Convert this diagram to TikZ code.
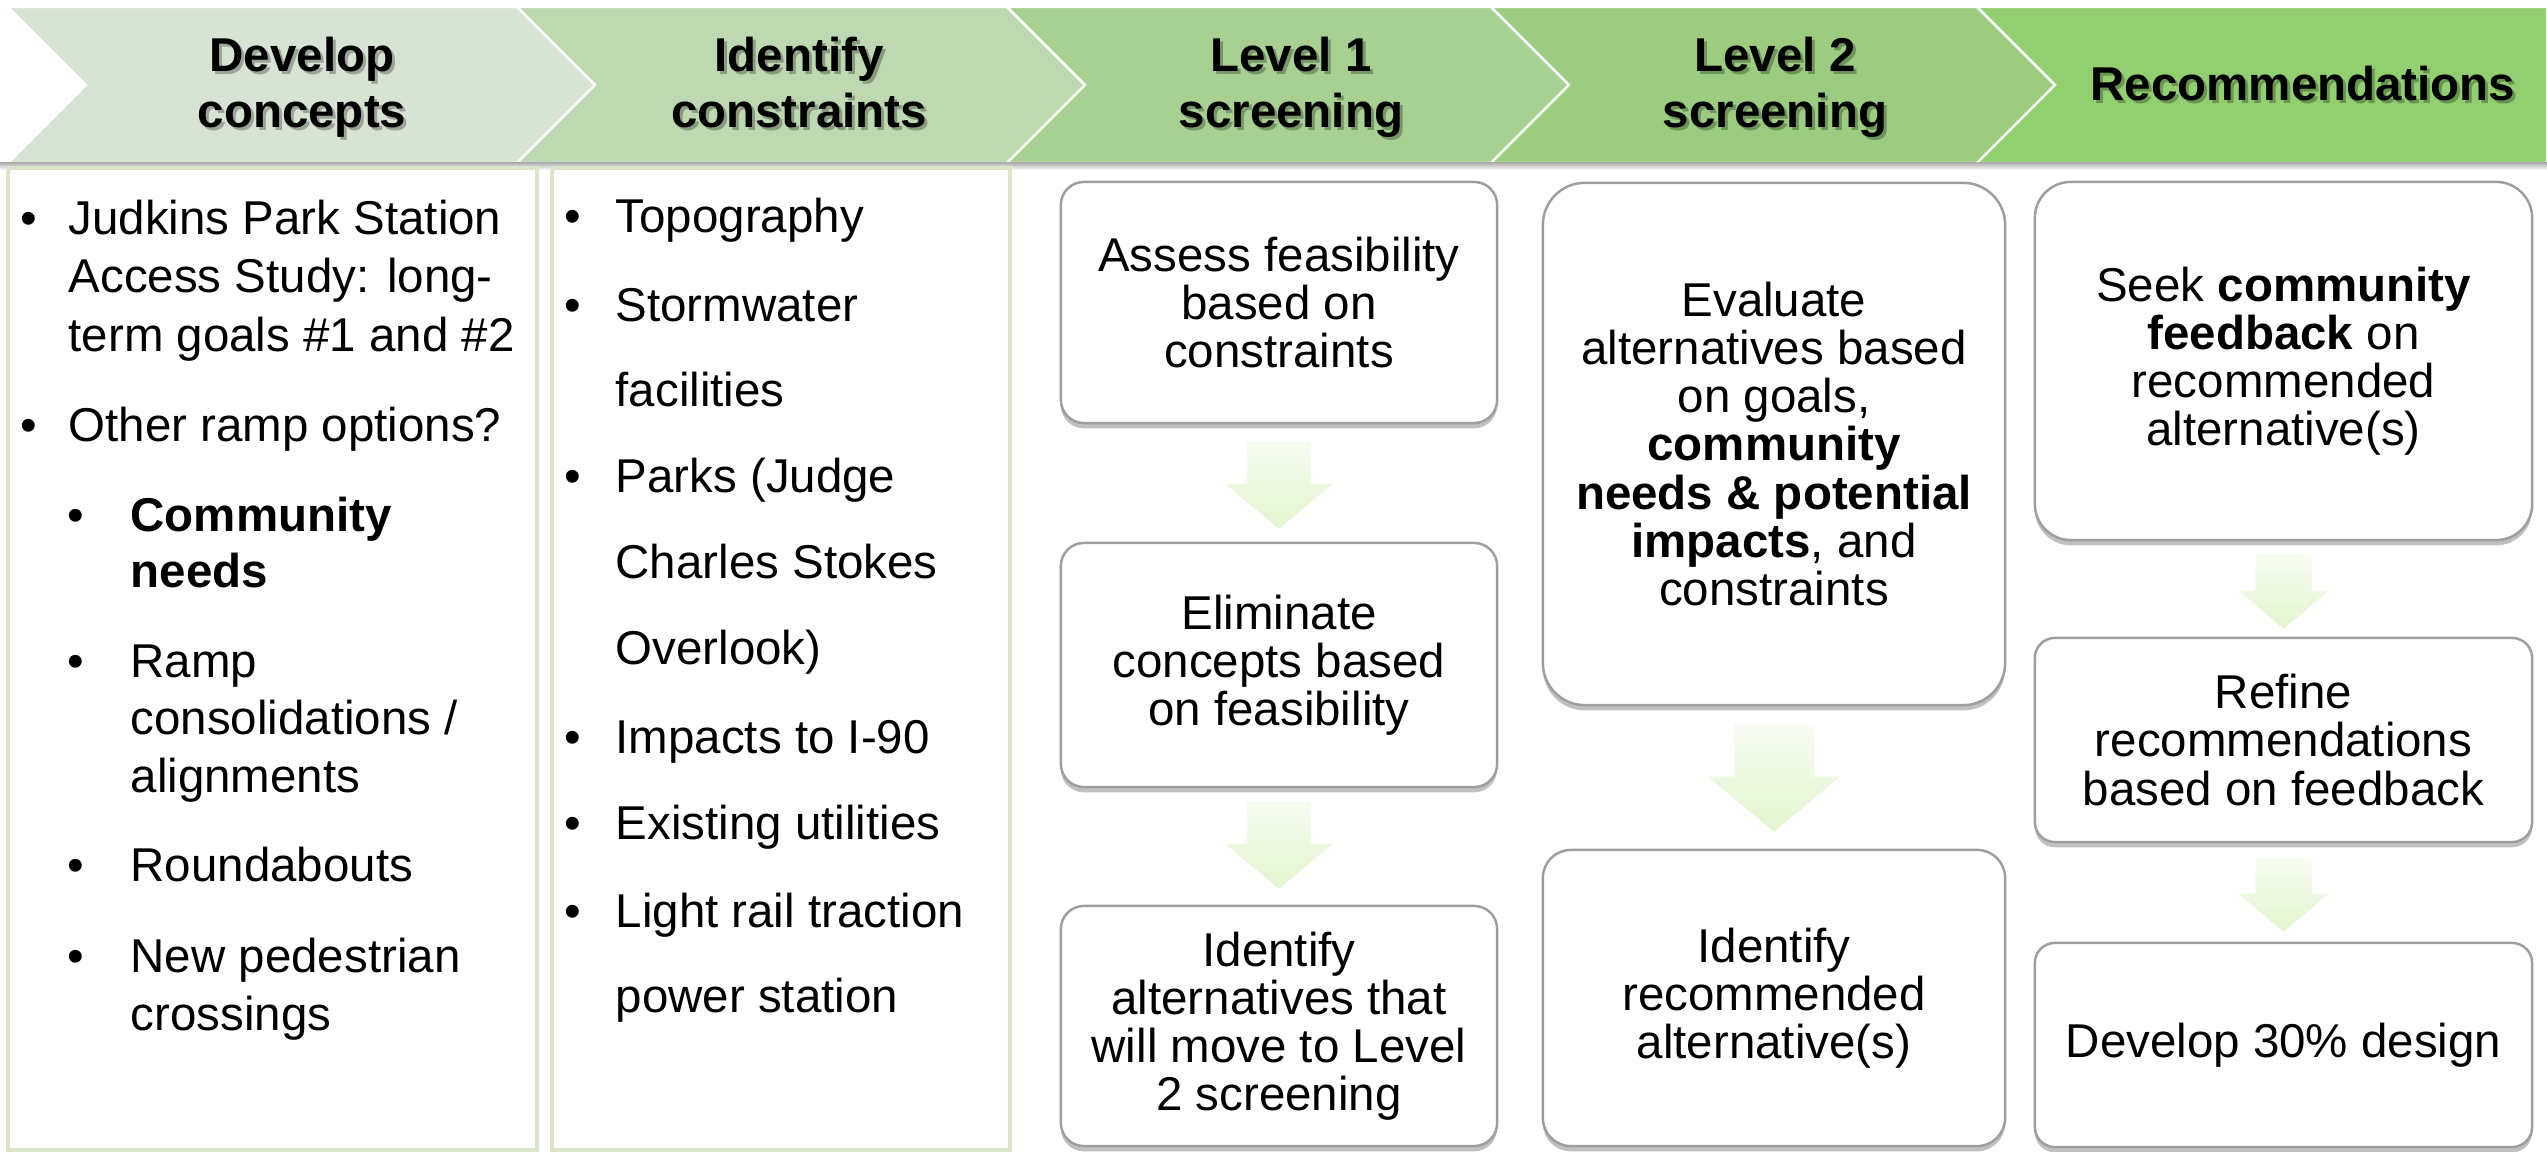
\documentclass[tikz,border=0pt]{standalone}
\usepackage{fontspec}
\setmainfont{Liberation Sans}
\usetikzlibrary{calc,shadows}

\definecolor{chevA}{RGB}{216,228,211}
\definecolor{chevB}{RGB}{190,216,177}
\definecolor{chevC}{RGB}{168,208,147}
\definecolor{chevD}{RGB}{155,204,128}
\definecolor{chevE}{RGB}{146,207,113}
\definecolor{panelrule}{RGB}{218,229,202}
\definecolor{boxrule}{RGB}{158,158,158}
\definecolor{arrowtop}{RGB}{247,252,242}
\definecolor{arrowbot}{RGB}{226,245,207}

\tikzset{
  body/.style={font=\fontsize{13.5pt}{13.66pt}\selectfont, inner sep=0pt},
  headtxt/.style={font=\fontsize{13.5pt}{16pt}\selectfont\bfseries, inner sep=0pt, anchor=base},
  headshadow/.style={headtxt, text=black, opacity=0.28},
  stepbox/.style={draw=boxrule, line width=0.7pt, fill=white, align=center,
    font=\fontsize{13.5pt}{13.66pt}\selectfont, inner sep=0pt,
    drop shadow={shadow xshift=0pt, shadow yshift=-1.5pt, opacity=0.35, fill=black!70}},
  panel/.style={draw=panelrule, line width=1.4pt, fill=white},
  chevron/.style={draw=white, line width=0.7pt},
  arrowfill/.style={top color=arrowtop, bottom color=arrowbot, draw=none},
}

% one line of a bullet list: name, x of bullet, x of text, baseline, text
\newcommand\bulletline[5]{%
  \node[body, anchor=base] (#1b) at (#2,#4) {•};
  \node[body, anchor=base west] (#1) at (#3,#4) {#5};}
% continuation line of a bullet item: name, x, baseline, text
\newcommand\contline[4]{%
  \node[body, anchor=base west] (#1) at (#2,#3) {#4};}
% header caption with its soft shadow: name, x, baseline, text
\newcommand\headline[4]{%
  \node[headshadow] (#1s) at ($(#2,#3)+(3,3)$) {#4};
  \node[headtxt] (#1) at (#2,#3) {#4};}
% block arrow between two stacked boxes:
% name, upper box, lower box, top gap, bottom gap, half shaft, half head, head length
\newcommand\flowarrow[8]{%
  \coordinate (#1t) at ($(#2.south)+(0,#4)$);
  \coordinate (#1p) at ($(#3.north)+(0,-#5)$);
  \shade[arrowfill] ($(#1t)+(-#6,0)$) -- ($(#1t)+(#6,0)$) -- ($(#1p)+(#6,-#8)$)
    -- ($(#1p)+(#7,-#8)$) -- (#1p) -- ($(#1p)+(-#7,-#8)$) -- ($(#1p)+(-#6,-#8)$) -- cycle;}

\begin{document}
\begin{tikzpicture}[x=0.01cm, y=-0.01cm]
\useasboundingbox[fill=white] (0,0) rectangle (2547,1152);

% ---- process chevrons ----
\filldraw[chevron, fill=chevA] (8,7) -- (517,7) -- (595,85) -- (517,163) -- (8,163) -- (86,85) -- cycle;
\filldraw[chevron, fill=chevB] (517,7) -- (1007,7) -- (1085,85) -- (1007,163) -- (517,163) -- (595,85) -- cycle;
\filldraw[chevron, fill=chevC] (1007,7) -- (1491,7) -- (1569,85) -- (1491,163) -- (1007,163) -- (1085,85) -- cycle;
\filldraw[chevron, fill=chevD] (1491,7) -- (1977,7) -- (2055,85) -- (1977,163) -- (1491,163) -- (1569,85) -- cycle;
\filldraw[chevron, fill=chevE] (1977,7) -- (2547,7) -- (2547,163) -- (1977,163) -- (2055,85) -- cycle;
\shade[top color=black!30, bottom color=white] (0,163) rectangle (2547,170);

\headline{hA1}{302}{72}{Develop}
\headline{hA2}{302}{128}{concepts}
\headline{hB1}{799}{72}{Identify}
\headline{hB2}{799}{128}{constraints}
\headline{hC1}{1291}{72}{Level 1}
\headline{hC2}{1291}{128}{screening}
\headline{hD1}{1775}{72}{Level 2}
\headline{hD2}{1775}{128}{screening}
\headline{hE1}{2303}{101}{Recommendations}

% ---- text panels ----
\draw[panel] (8,168) rectangle (537,1150);
\draw[panel] (552,168) rectangle (1010,1150);

\bulletline{c1}{29}{68}{235}{Judkins Park Station}
\contline{c1x}{68}{293}{Access Study: long-}
\contline{c1y}{68}{352}{term goals \#1 and \#2}
\bulletline{c2}{29}{68}{442}{Other ramp options?}
\bulletline{c3}{76}{130}{532}{\textbf{Community}}
\contline{c3x}{130}{588}{\textbf{needs}}
\bulletline{c4}{76}{130}{678}{Ramp}
\contline{c4x}{130}{735}{consolidations /}
\contline{c4y}{130}{793}{alignments}
\bulletline{c5}{76}{130}{882}{Roundabouts}
\bulletline{c6}{76}{130}{972}{New pedestrian}
\contline{c6x}{130}{1030}{crossings}

\bulletline{k1}{573}{615}{233}{Topography}
\bulletline{k2}{573}{615}{322}{Stormwater}
\contline{k2x}{615}{407}{facilities}
\bulletline{k3}{573}{615}{493}{Parks (Judge}
\contline{k3x}{615}{579}{Charles Stokes}
\contline{k3y}{615}{665}{Overlook)}
\bulletline{k4}{573}{615}{754}{Impacts to I-90}
\bulletline{k5}{573}{615}{840}{Existing utilities}
\bulletline{k6}{573}{615}{927}{Light rail traction}
\contline{k6x}{615}{1012}{power station}

% ---- Level 1 screening ----
\node[stepbox, rounded corners=0.23cm, minimum width=4.36cm, minimum height=2.41cm] (a1) at (1279,302.5)
  {Assess feasibility\\based on\\constraints};
\node[stepbox, rounded corners=0.23cm, minimum width=4.36cm, minimum height=2.44cm] (a2) at (1279,665)
  {Eliminate\\concepts based\\on feasibility};
\node[stepbox, rounded corners=0.23cm, minimum width=4.36cm, minimum height=2.40cm] (a3) at (1279,1026)
  {Identify\\alternatives that\\will move to Level\\2 screening};
\flowarrow{ar1}{a1}{a2}{17}{13}{32}{54}{45}
\flowarrow{ar2}{a2}{a3}{13}{16}{32}{54}{45}

% ---- Level 2 screening ----
\node[stepbox, rounded corners=0.42cm, minimum width=4.62cm, minimum height=5.22cm] (b1) at (1774,444)
  {Evaluate\\alternatives based\\on goals,\\\textbf{community}\\\textbf{needs \& potential}\\\textbf{impacts}, and\\constraints};
\node[stepbox, rounded corners=0.28cm, minimum width=4.62cm, minimum height=2.96cm] (b2) at (1774,998)
  {Identify\\recommended\\alternative(s)};
\flowarrow{br1}{b1}{b2}{18}{17}{40}{66}{55}

% ---- Recommendations ----
\node[stepbox, rounded corners=0.36cm, minimum width=4.97cm, minimum height=3.58cm] (r1) at (2283.5,361)
  {Seek \textbf{community}\\\textbf{feedback} on\\recommended\\alternative(s)};
\node[stepbox, rounded corners=0.2cm, minimum width=4.97cm, minimum height=2.04cm] (r2) at (2283.5,740)
  {Refine\\recommendations\\based on feedback};
\node[stepbox, rounded corners=0.2cm, minimum width=4.97cm, minimum height=2.04cm] (r3) at (2283.5,1045)
  {Develop 30\% design};
\flowarrow{rr1}{r1}{r2}{13}{8}{28}{45}{38}
\flowarrow{rr2}{r2}{r3}{15}{10}{28}{45}{38}
\end{tikzpicture}
\end{document}
